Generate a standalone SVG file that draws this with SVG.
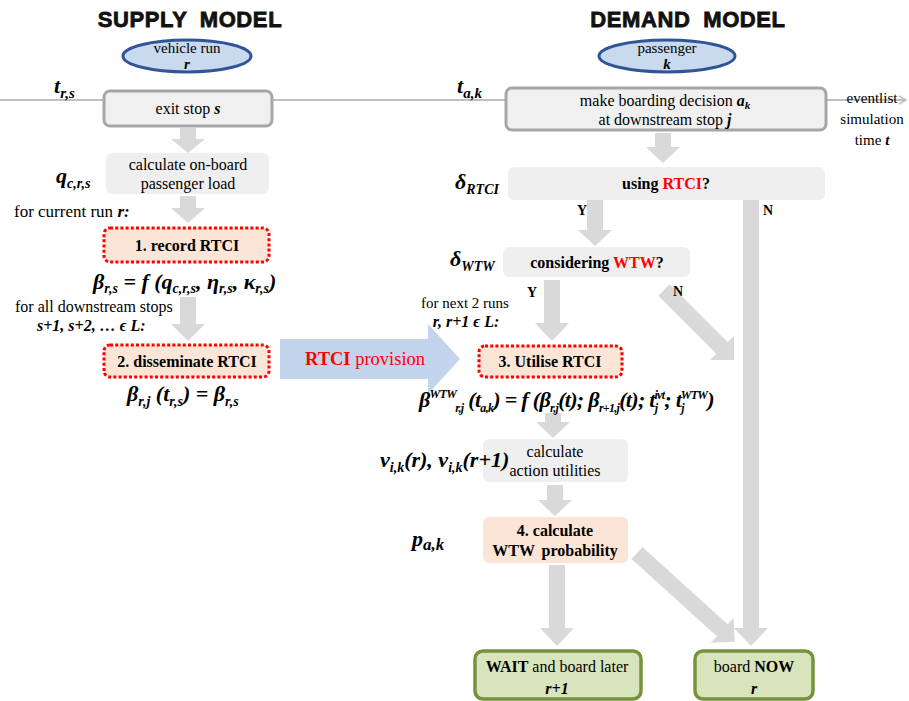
<svg xmlns="http://www.w3.org/2000/svg" width="909" height="701" viewBox="0 0 909 701">
<defs>
<style>
.s{fill:#000}
.f16{font-size:16px}
.f15{font-size:15px}
.b{font-weight:bold}
.i{font-style:italic}
.red{fill:#ff0000}
.fm{font-weight:bold;font-style:italic;font-size:22px;fill:#000}
.sb{font-size:14px}
.ttl{font-family:"Liberation Sans","DejaVu Sans",sans-serif;font-weight:900;font-size:22px;fill:#111;stroke:#111;stroke-width:0.8;letter-spacing:0.6px}
.gbox{fill:#f0f0f0;stroke:#a6a6a6;stroke-width:3}
.pbox{fill:#efefef}
.rbox{fill:#fbe5d6;stroke:#ff0000;stroke-width:3;stroke-dasharray:3 2.2}
.obox{fill:#fbe5d6}
.green{fill:#d8e4bc;stroke:#76923c;stroke-width:3.5}
.ell{fill:#c9d9ee;stroke:#2f5597;stroke-width:3}
.arr{fill:#d9d9d9}
</style>
<marker id="tl" markerWidth="10" markerHeight="10" refX="8" refY="5" orient="auto" markerUnits="userSpaceOnUse">
<path d="M1,1 L8,5 L1,9" fill="none" stroke="#bfbfbf" stroke-width="1.5"/>
</marker>
</defs>
<rect width="909" height="701" fill="#fff"/>

<text class="ttl" x="190" y="27" text-anchor="middle" word-spacing="6">SUPPLY MODEL</text>
<text class="ttl" x="688" y="27" text-anchor="middle" word-spacing="6">DEMAND MODEL</text>

<g font-family="Liberation Serif, Times New Roman, serif">
<g id="timeline">
<line x1="0" y1="100" x2="906" y2="100" stroke="#bfbfbf" stroke-width="2" marker-end="url(#tl)"/>
<text class="s f15" x="872" y="103" text-anchor="middle">eventlist</text>
<text class="s f15" x="872" y="124" text-anchor="middle">simulation</text>
<text class="s f15" x="872" y="145" text-anchor="middle">time <tspan class="b i">t</tspan></text>
</g>

<g id="connectors">
<polygon class="arr" points="180,128 196,128 196,139 205,139 188,153 171,139 180,139"/>
<polygon class="arr" points="180,196 196,196 196,208 205,208 188,223 171,208 180,208"/>
<polygon class="arr" points="180,297 196,297 196,324 205,324 188,341 171,324 180,324"/>
<polygon class="arr" points="655,133 671,133 671,147 680,147 663,163 646,147 655,147"/>
<polygon class="arr" points="587,200 603,200 603,230 612,230 595,246 578,230 587,230"/>
<polygon class="arr" points="544,280 560,280 560,323 569,323 552,341 535,323 544,323"/>
<polygon class="arr" points="545,413 561,413 561,422 570,422 553,438 536,422 545,422"/>
<polygon class="arr" points="547,485 563,485 563,500 572,500 555,516 538,500 547,500"/>
<polygon class="arr" points="549,565 565,565 565,628 574,628 557,646 540,628 549,628"/>
<polygon class="arr" points="743,200 759,200 759,628 768,628 751,646 734,628 743,628"/>
<polygon class="arr" transform="translate(664,290) rotate(45)" points="0,-8 82,-8 82,-17 99,0 82,17 82,8 0,8"/>
<polygon class="arr" transform="translate(637,553) rotate(42.2)" points="0,-8 115,-8 115,-17 132,0 115,17 115,8 0,8"/>
<polygon id="provision" fill="#c3d5ec" points="280,339 428,339 428,324 460,359 428,394 428,379 280,379"/>
<text class="s red" x="365" y="365" text-anchor="middle" font-size="18.5px"><tspan class="b">RTCI</tspan> provision</text>
<text class="s b" x="582" y="215" text-anchor="middle" font-size="14px">Y</text>
<text class="s b" x="768" y="215" text-anchor="middle" font-size="14px">N</text>
<text class="s b" x="532" y="297" text-anchor="middle" font-size="14px">Y</text>
<text class="s b" x="678" y="296" text-anchor="middle" font-size="14px">N</text>
</g>

<g id="vehicle-run">
<ellipse class="ell" cx="187" cy="56" rx="64" ry="16"/>
<text class="s f15" x="187" y="53" text-anchor="middle">vehicle run</text>
<text class="s b i f15" x="187" y="69" text-anchor="middle">r</text>
</g>

<g id="exit-stop">
<rect class="gbox" x="104" y="91" width="168" height="35" rx="6"/>
<text class="s f16" x="188" y="114" text-anchor="middle">exit stop <tspan class="b i">s</tspan></text>
<text class="fm" x="54" y="93" font-size="24px">t<tspan font-size="15px" dy="5">r,s</tspan></text>
</g>

<g id="passenger-load">
<rect class="pbox" x="106" y="153" width="163" height="41" rx="6"/>
<text class="s f16" x="188" y="170" text-anchor="middle">calculate on-board</text>
<text class="s f16" x="188" y="189" text-anchor="middle">passenger load</text>
<text class="fm" x="56" y="183">q<tspan class="sb" dy="5">c,r,s</tspan></text>
<text class="s" font-size="17px" x="14" y="217">for current run <tspan class="b i">r:</tspan></text>
</g>

<g id="record-rtci">
<rect class="rbox" x="104" y="228" width="165" height="34" rx="6"/>
<text class="s f16 b" x="187" y="251" text-anchor="middle">1. record RTCI</text>
<text class="fm" x="93" y="289">β<tspan class="sb" dy="4">r,s</tspan><tspan dy="-4"> = f (q</tspan><tspan class="sb" dy="4">c,r,s</tspan><tspan dy="-4">, η</tspan><tspan class="sb" dy="4">r,s</tspan><tspan dy="-4">, κ</tspan><tspan class="sb" dy="4">r,s</tspan><tspan dy="-4">)</tspan></text>
<text class="s f16" x="15" y="312">for all downstream stops</text>
<text class="s f16 b i" x="37" y="331">s+1, s+2, … ϵ L:</text>
</g>

<g id="disseminate-rtci">
<rect class="rbox" x="104" y="345" width="165" height="32" rx="6"/>
<text class="s f16 b" x="187" y="367" text-anchor="middle">2. disseminate RTCI</text>
<text class="fm" x="127" y="401">β<tspan class="sb" dy="5">r,j</tspan><tspan dy="-5"> (t</tspan><tspan class="sb" dy="5">r,s</tspan><tspan dy="-5">) = β</tspan><tspan class="sb" dy="5">r,s</tspan></text>
</g>

<g id="passenger">
<ellipse class="ell" cx="667" cy="56" rx="68" ry="16"/>
<text class="s f15" x="667" y="53" text-anchor="middle">passenger</text>
<text class="s b i f15" x="667" y="69" text-anchor="middle">k</text>
</g>

<g id="boarding-decision">
<rect class="gbox" x="506" y="88" width="320" height="42" rx="6"/>
<text class="s f16" x="665" y="106" text-anchor="middle">make boarding decision <tspan class="b i">a</tspan><tspan class="b i" font-size="11px" dy="3">k</tspan></text>
<text class="s f16" x="665" y="125" text-anchor="middle">at downstream stop <tspan class="b i">j</tspan></text>
<text class="fm" x="457" y="93" font-size="24px">t<tspan font-size="15px" dy="5">a,k</tspan></text>
</g>

<g id="using-rtci">
<rect class="pbox" x="508" y="167" width="317" height="33" rx="6"/>
<text class="s f16 b" x="666" y="189" text-anchor="middle">using <tspan class="red">RTCI</tspan>?</text>
<text class="fm" x="455" y="189">δ<tspan class="sb" dy="5">RTCI</tspan></text>
</g>

<g id="considering-wtw">
<rect class="pbox" x="503" y="247" width="187" height="30" rx="6"/>
<text class="s f16 b" x="597" y="268" text-anchor="middle">considering <tspan class="red">WTW</tspan>?</text>
<text class="fm" x="450" y="266">δ<tspan class="sb" dy="5">WTW</tspan></text>
<text class="s f15" x="465" y="308" text-anchor="middle">for next 2 runs</text>
<text class="s f16 b i" x="466" y="327" text-anchor="middle">r, r+1  ϵ L:</text>
</g>

<g id="utilise-rtci">
<rect class="rbox" x="479" y="346" width="143" height="31" rx="6"/>
<text class="s f16 b" x="550" y="367" text-anchor="middle">3. Utilise RTCI</text>
<text class="fm" x="419" y="407" font-size="20px" letter-spacing="-0.7">β<tspan font-size="12px" dy="-9">WTW</tspan><tspan font-size="12px" dy="14">r,j</tspan><tspan dy="-5"> (t</tspan><tspan font-size="12px" dy="5">a,k</tspan><tspan dy="-5">) = f (β</tspan><tspan font-size="12px" dy="5">r,j</tspan><tspan dy="-5">(t); β</tspan><tspan font-size="12px" dy="5">r+1,j</tspan><tspan dy="-5">(t); t</tspan><tspan font-size="12px" dy="5">j</tspan><tspan font-size="12px" dx="-3" dy="-13">ivt</tspan><tspan dy="8">; t</tspan><tspan font-size="12px" dy="5">j</tspan><tspan font-size="12px" dx="-3" dy="-13">WTW</tspan><tspan dy="8">)</tspan></text>
</g>

<g id="action-utilities">
<rect class="pbox" x="483" y="439" width="145" height="43" rx="6"/>
<text class="s f16" x="555" y="457" text-anchor="middle">calculate</text>
<text class="s f16" x="555" y="476" text-anchor="middle">action utilities</text>
<text class="fm" x="380" y="467">v<tspan class="sb" dy="5">i,k</tspan><tspan dy="-5">(r), v</tspan><tspan class="sb" dy="5">i,k</tspan><tspan dy="-5">(r+1)</tspan></text>
</g>

<g id="wtw-probability">
<rect class="obox" x="483" y="517" width="145" height="46" rx="6"/>
<text class="s f16 b" x="555" y="536" text-anchor="middle">4. calculate</text>
<text class="s f16 b" x="555" y="556" text-anchor="middle" word-spacing="3">WTW probability</text>
<text class="fm" x="412" y="546" font-size="26px">p<tspan font-size="17px" dy="4">a,k</tspan></text>
</g>

<g id="wait">
<rect class="green" x="475" y="651" width="166" height="48" rx="8"/>
<text class="s f16" x="557" y="672" text-anchor="middle"><tspan class="b">WAIT</tspan>  and board later</text>
<text class="s f16 b i" x="557" y="694" text-anchor="middle">r+1</text>
</g>

<g id="board-now">
<rect class="green" x="695" y="651" width="118" height="48" rx="8"/>
<text class="s f16" x="754" y="672" text-anchor="middle">board <tspan class="b">NOW</tspan></text>
<text class="s f16 b i" x="754" y="694" text-anchor="middle">r</text>
</g>
</g>
</svg>
